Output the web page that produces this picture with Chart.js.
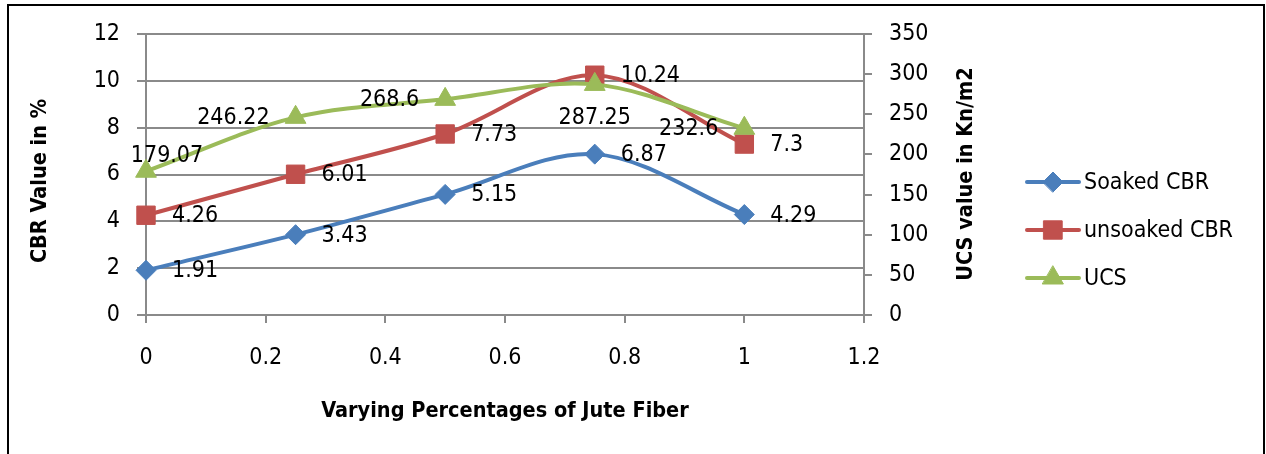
<!DOCTYPE html>
<html>
<head>
<meta charset="utf-8">
<script src="https://cdn.jsdelivr.net/npm/chart.js@4.4.1/dist/chart.umd.min.js"></script>
<style>
  html, body { margin: 0; padding: 0; background: #fff; }
  #wrap { position: relative; width: 1266px; height: 454px; overflow: hidden; }
  #frame { position: absolute; left: 7px; top: 4px; width: 1258px; height: 470px; border: 2px solid #000; box-sizing: border-box; }
  canvas { position: absolute; left: 0; top: 0; }
</style>
</head>
<body>
<div id="wrap">
  <div id="frame"></div>
  <canvas id="chart" width="1266" height="454"></canvas>
</div>
<script>
// Values
const fiberPct = [0, 0.25, 0.5, 0.75, 1];
const soakedCBR = [1.91, 3.43, 5.15, 6.87, 4.29];
const unsoakedCBR = [4.26, 6.01, 7.73, 10.24, 7.3];
const ucsValues = [179.07, 246.22, 268.6, 287.25, 232.6];
const xTicks = [0, 0.2, 0.4, 0.6, 0.8, 1, 1.2];
const cbrTicks = [0, 2, 4, 6, 8, 10, 12];
const ucsTicks = [0, 50, 100, 150, 200, 250, 300, 350];

// where each value label sits relative to its point
const soakedSpots = ['right', 'right', 'right', 'right', 'right'];
const unsoakedSpots = ['right', 'right', 'right', 'right', 'right'];
const ucsSpots = ['aboveRight', 'left', 'left', 'below', 'left'];

const FONT = '"DejaVu Sans Condensed", "Liberation Sans Narrow", sans-serif';
const TXT = 23;     // tick / label size
const TTL = 21.5;   // axis title size
const gridColor = '#8a8a8a';
const blue = '#4a7ebb';
const red = '#c0504d';
const green = '#9bbb59';

Chart.defaults.font.family = FONT;
Chart.defaults.color = '#000';

const toPoints = ys => fiberPct.map((x, i) => ({ x: x, y: ys[i] }));

// rotated title, reading bottom to top
function sideTitle(ctx, text, x, y) {
    ctx.save();
    ctx.font = 'bold ' + TTL + 'px ' + FONT;
    ctx.fillStyle = '#000';
    ctx.textAlign = 'center';
    ctx.textBaseline = 'middle';
    ctx.translate(x, y);
    ctx.rotate(-Math.PI / 2);
    ctx.fillText(text, 0, 0);
    ctx.restore();
}

// value labels next to points, axis titles and legend
const valueLabels = {
    id: 'valueLabels',
    afterDatasetsDraw(chart) {
        const ctx = chart.ctx;
        ctx.save();
        ctx.font = TXT + 'px ' + FONT;
        ctx.fillStyle = '#000';
        ctx.textBaseline = 'middle';
        chart.data.datasets.forEach((ds, i) => {
            chart.getDatasetMeta(i).data.forEach((pt, j) => {
                const text = String(ds.data[j].y);
                const spot = ds.spots[j];
                let x = pt.x, y = pt.y;
                if (spot === 'right') { ctx.textAlign = 'left'; x += 26; }
                else if (spot === 'left') { ctx.textAlign = 'right'; x -= 26; }
                else if (spot === 'below') { ctx.textAlign = 'center'; y += 33; }
                else { ctx.textAlign = 'center'; x += 21; y -= 16; }
                ctx.fillText(text, x, y + 1);
            });
        });
        ctx.restore();
    },
    afterDraw(chart) {
        const ctx = chart.ctx;
        sideTitle(ctx, 'CBR Value in %', 40, 181);
        sideTitle(ctx, 'UCS value in Kn/m2', 966, 174);

        ctx.save();
        ctx.font = TXT + 'px ' + FONT;
        ctx.textBaseline = 'middle';
        ctx.textAlign = 'left';
        chart.data.datasets.forEach((ds, i) => {
            const y = 182 + i * 48;
            ctx.strokeStyle = ds.borderColor;
            ctx.fillStyle = ds.borderColor;
            ctx.lineWidth = 4;
            ctx.lineCap = 'round';
            ctx.beginPath();
            ctx.moveTo(1027, y);
            ctx.lineTo(1079, y);
            ctx.stroke();
            ctx.lineWidth = 1;
            Chart.helpers.drawPoint(ctx, { pointStyle: ds.pointStyle, radius: ds.pointRadius, rotation: 0, borderWidth: 1 }, 1053, y);
            ctx.fillStyle = '#000';
            ctx.fillText(ds.label, 1084, y + 1);
        });
        ctx.restore();
    }
};

const ctx = document.getElementById('chart').getContext('2d');
new Chart(ctx, {
    type: 'line',
    data: {
        datasets: [
            { label: 'Soaked CBR', data: toPoints(soakedCBR), spots: soakedSpots, yAxisID: 'y', borderColor: blue, backgroundColor: blue, pointStyle: 'rectRot', pointRadius: 10, order: 2 },
            { label: 'unsoaked CBR', data: toPoints(unsoakedCBR), spots: unsoakedSpots, yAxisID: 'y', borderColor: red, backgroundColor: red, pointStyle: 'rect', pointRadius: 13, order: 1 },
            { label: 'UCS', data: toPoints(ucsValues), spots: ucsSpots, yAxisID: 'y1', borderColor: green, backgroundColor: green, pointStyle: 'triangle', pointRadius: 12, order: 0 }
        ]
    },
    options: {
        responsive: false,
        animation: false,
        layout: { padding: { left: 0, top: 34, right: 262, bottom: 0 } },
        datasets: { line: { borderWidth: 4, tension: 0.33, clip: false, pointBorderWidth: 1, pointHoverRadius: 0, fill: false } },
        plugins: { legend: { display: false }, tooltip: { enabled: false } },
        scales: {
            x: {
                type: 'linear', min: 0, max: 1.2,
                afterBuildTicks: s => { s.ticks = xTicks.map(v => ({ value: v })); },
                afterFit: s => { s.height = 139; },
                grid: { drawOnChartArea: false, color: gridColor, lineWidth: 2, tickLength: 8 },
                border: { color: gridColor, width: 2 },
                ticks: { font: { size: TXT }, padding: 21, maxRotation: 0, callback: v => String(v) },
                title: { display: true, text: 'Varying Percentages of Jute Fiber', font: { size: TTL, weight: 'bold' }, padding: { top: 0, bottom: 30 } }
            },
            y: {
                position: 'left', min: 0, max: 12,
                afterBuildTicks: s => { s.ticks = cbrTicks.map(v => ({ value: v })); },
                afterFit: s => { s.width = 146; },
                grid: { color: gridColor, lineWidth: 2, tickLength: 9 },
                border: { color: gridColor, width: 2 },
                ticks: { font: { size: TXT }, padding: 17, callback: v => String(v) }
            },
            y1: {
                position: 'right', min: 0, max: 350,
                afterBuildTicks: s => { s.ticks = ucsTicks.map(v => ({ value: v })); },
                afterFit: s => { s.width = 140; },
                grid: { drawOnChartArea: false, color: gridColor, lineWidth: 2, tickLength: 8 },
                border: { color: gridColor, width: 2 },
                ticks: { font: { size: TXT }, padding: 17, callback: v => String(v) }
            }
        }
    },
    plugins: [valueLabels]
});
</script>
</body>
</html>
